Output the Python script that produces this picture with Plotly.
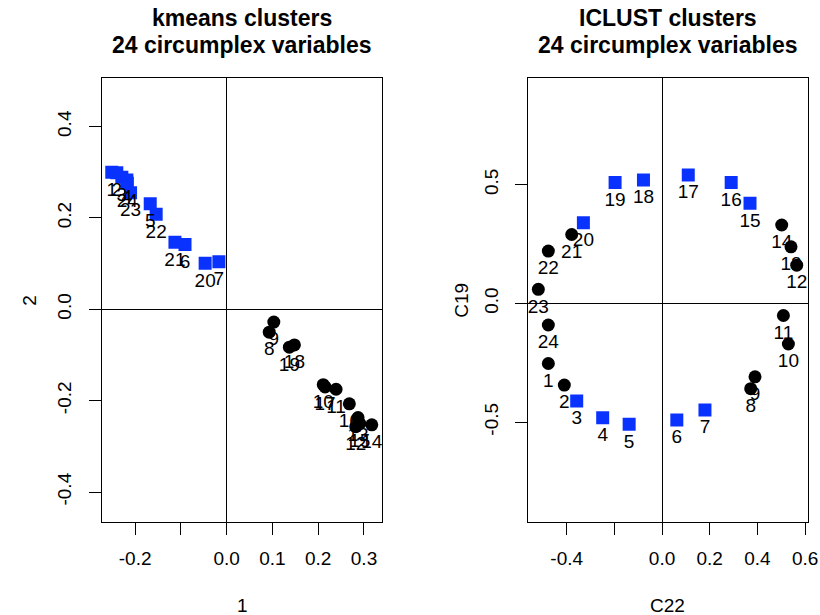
import plotly.graph_objects as go

# ---- data: kmeans panel (left) ----
km_sq_labels = ["1", "2", "3", "4", "24", "23", "5", "22", "21", "6", "20", "7"]
km_sq_x = [-0.251, -0.240, -0.229, -0.218, -0.217, -0.210, -0.167, -0.154, -0.113, -0.091, -0.047, -0.017]
km_sq_y = [0.300, 0.299, 0.289, 0.283, 0.276, 0.255, 0.231, 0.208, 0.147, 0.142, 0.101, 0.104]

km_ci_labels = ["9", "8", "19", "18", "10", "17", "11", "16", "13", "15", "12", "14"]
km_ci_x = [0.103, 0.093, 0.137, 0.148, 0.211, 0.215, 0.239, 0.268, 0.287, 0.291, 0.282, 0.317]
km_ci_y = [-0.028, -0.050, -0.083, -0.078, -0.165, -0.170, -0.175, -0.207, -0.237, -0.250, -0.257, -0.253]

# ---- data: ICLUST panel (right) ----
ic_sq_labels = ["19", "18", "17", "16", "15", "20", "3", "4", "5", "6", "7"]
ic_sq_x = [-0.197, -0.078, 0.110, 0.290, 0.369, -0.330, -0.358, -0.249, -0.138, 0.062, 0.180]
ic_sq_y = [0.509, 0.519, 0.540, 0.509, 0.421, 0.339, -0.411, -0.481, -0.509, -0.491, -0.449]

ic_ci_labels = ["21", "22", "23", "24", "1", "2", "14", "13", "12", "11", "10", "9", "8"]
ic_ci_x = [-0.379, -0.477, -0.519, -0.477, -0.477, -0.410, 0.502, 0.541, 0.565, 0.509, 0.530, 0.390, 0.372]
ic_ci_y = [0.290, 0.220, 0.059, -0.091, -0.253, -0.344, 0.330, 0.238, 0.161, -0.051, -0.171, -0.309, -0.359]

# tick labels
km_xticks = [-0.2, -0.1, 0.0, 0.1, 0.2, 0.3]
km_xticktext = ["-0.2", "", "0.0", "0.1", "0.2", "0.3"]
km_yticks = [-0.4, -0.2, 0.0, 0.2, 0.4]
km_yticktext = ["-0.4", "-0.2", "0.0", "0.2", "0.4"]
ic_xticks = [-0.4, -0.2, 0.0, 0.2, 0.4, 0.6]
ic_xticktext = ["-0.4", "", "0.0", "0.2", "0.4", "0.6"]
ic_yticks = [-0.5, 0.0, 0.5]
ic_yticktext = ["-0.5", "0.0", "0.5"]

FONT = "Liberation Sans, Arial, Helvetica, sans-serif"
BLUE = "#0A32FF"
MSIZE = 13
FS = 19

fig = go.Figure()

def add_panel(xa, ya, sx, sy, sl, cx, cy, cl):
    fig.add_trace(go.Scatter(x=cx, y=cy, mode="markers", xaxis=xa, yaxis=ya,
                             marker=dict(symbol="circle", size=MSIZE, color="black", line=dict(width=0)),
                             showlegend=False, hoverinfo="skip"))
    fig.add_trace(go.Scatter(x=sx, y=sy, mode="markers", xaxis=xa, yaxis=ya,
                             marker=dict(symbol="square", size=MSIZE, color=BLUE, line=dict(width=0)),
                             showlegend=False, hoverinfo="skip"))
    # labels below each point (invisible markers keep the offset)
    fig.add_trace(go.Scatter(x=list(cx) + list(sx), y=list(cy) + list(sy), mode="markers+text",
                             text=list(cl) + list(sl), textposition="bottom center",
                             xaxis=xa, yaxis=ya, marker=dict(size=MSIZE, opacity=0),
                             textfont=dict(family=FONT, size=FS, color="black"),
                             showlegend=False, hoverinfo="skip", cliponaxis=False))

add_panel("x", "y", km_sq_x, km_sq_y, km_sq_labels, km_ci_x, km_ci_y, km_ci_labels)
add_panel("x2", "y2", ic_sq_x, ic_sq_y, ic_sq_labels, ic_ci_x, ic_ci_y, ic_ci_labels)

W, H = 820, 615
L1, R1 = 101.7, 382.3
L2, R2 = 527.7, 807.7
T, B = 77.7, 521.7
ydom = [1 - B / H, 1 - T / H]

axcommon = dict(showline=True, mirror=True, linecolor="black", linewidth=1,
                ticks="outside", ticklen=12, tickcolor="black", tickwidth=1,
                showgrid=False, zeroline=True, zerolinecolor="black", zerolinewidth=1,
                tickfont=dict(family=FONT, size=FS, color="black"), automargin=False)

fig.update_layout(
    width=W, height=H, margin=dict(l=0, r=0, t=0, b=0),
    paper_bgcolor="white", plot_bgcolor="white",
    xaxis=dict(domain=[L1 / W, R1 / W], range=[-0.273, 0.340], tickmode="array",
               tickvals=km_xticks, ticktext=km_xticktext, ticklabelstandoff=7, anchor="y", **axcommon),
    yaxis=dict(domain=ydom, range=[-0.465, 0.507], tickmode="array",
               tickvals=km_yticks, ticktext=km_yticktext, tickangle=-90, ticklabelstandoff=10, anchor="x", **axcommon),
    xaxis2=dict(domain=[L2 / W, R2 / W], range=[-0.5636, 0.611], tickmode="array",
                tickvals=ic_xticks, ticktext=ic_xticktext, ticklabelstandoff=7, anchor="y2", **axcommon),
    yaxis2=dict(domain=ydom, range=[-0.919, 0.950], tickmode="array",
                tickvals=ic_yticks, ticktext=ic_yticktext, tickangle=-90, ticklabelstandoff=9, anchor="x2", **axcommon),
)

titles = [((L1 + R1) / 2, "kmeans clusters", "24 circumplex variables"),
          ((L2 + R2) / 2, "ICLUST clusters", "24 circumplex variables")]
for cxp, t1, t2 in titles:
    for yy, txt in ((17.6, t1), (44.6, t2)):
        fig.add_annotation(x=cxp / W, y=1 - yy / H, xref="paper", yref="paper", text="<b>" + txt + "</b>",
                           showarrow=False, xanchor="center", yanchor="middle",
                           font=dict(family=FONT, size=23, color="black"))

axis_titles = [((L1 + R1) / 2, 605, "1", 0), ((L2 + R2) / 2, 605, "C22", 0),
               (30, (T + B) / 2, "2", -90), (462, (T + B) / 2, "C19", -90)]
for xp, yp, txt, ang in axis_titles:
    fig.add_annotation(x=xp / W, y=1 - yp / H, xref="paper", yref="paper", text=txt, textangle=ang,
                       showarrow=False, xanchor="center", yanchor="middle",
                       font=dict(family=FONT, size=FS, color="black"))

fig.write_html("out.html", config={"displayModeBar": False},
               post_script="document.body.style.margin='0';document.body.style.padding='0';")
